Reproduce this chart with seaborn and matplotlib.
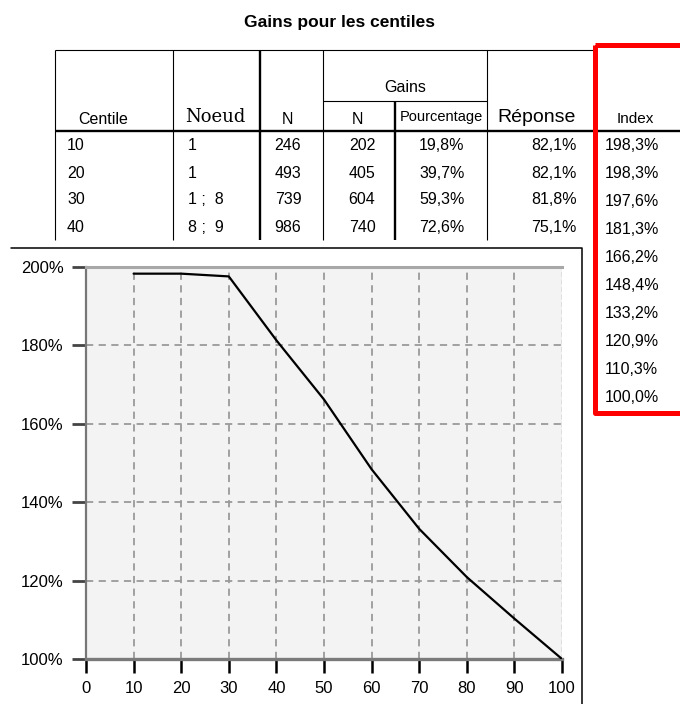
import matplotlib
matplotlib.use("Agg")
import matplotlib.pyplot as plt
import matplotlib.patches as mpatches
import seaborn as sns
import pandas as pd

# data
title = "Gains pour les centiles"
centiles = [10, 20, 30, 40, 50, 60, 70, 80, 90, 100]
index_pct = [198.3, 198.3, 197.6, 181.3, 166.2, 148.4, 133.2, 120.9, 110.3, 100.0]

tab_centile = ["10", "20", "30", "40"]
tab_noeud = ["1", "1", "1 ;  8", "8 ;  9"]
tab_n = ["246", "493", "739", "986"]
tab_gains_n = ["202", "405", "604", "740"]
tab_gains_pct = ["19,8%", "39,7%", "59,3%", "72,6%"]
tab_reponse = ["82,1%", "82,1%", "81,8%", "75,1%"]
index_labels = [f"{v:.1f}%".replace(".", ",") for v in index_pct]

x_ticks = list(range(0, 101, 10))
y_ticks = [100, 120, 140, 160, 180, 200]

df = pd.DataFrame({"Centile": centiles, "Index": index_pct})

sns.set_style("white")
plt.rcParams["font.family"] = ["Liberation Sans", "DejaVu Sans"]
plt.rcParams["text.color"] = "black"
plt.rcParams["xtick.color"] = "black"
plt.rcParams["ytick.color"] = "black"

W, H = 680, 704
fig = plt.figure(figsize=(W / 100, H / 100), dpi=100)

# background layer in pixel coordinates for the table part
bg = fig.add_axes([0, 0, 1, 1])
bg.set_xlim(0, W)
bg.set_ylim(H, 0)
bg.axis("off")

bg.text(340, 22, title, ha="center", va="center", fontsize=12.5, fontweight="bold")

thin, thick = 0.8, 1.7
bg.hlines(50, 55, 597, color="black", lw=thin)
bg.hlines(101, 323, 487, color="black", lw=thin)
bg.hlines(131, 55, W, color="black", lw=thick)
for x in [55, 173, 323, 487]:
    bg.vlines(x, 50, 240, color="black", lw=thin)
bg.vlines(260, 50, 240, color="black", lw=thick)
bg.vlines(395, 101, 240, color="black", lw=thick)

# header
fs = 11.5
bg.text(103, 119, "Centile", ha="center", va="center", fontsize=fs)
bg.text(215, 117, "Noeud", ha="center", va="center", fontsize=13, family="DejaVu Serif")
bg.text(287, 119, "N", ha="center", va="center", fontsize=fs)
bg.text(405, 88, "Gains", ha="center", va="center", fontsize=fs)
bg.text(357, 119, "N", ha="center", va="center", fontsize=fs)
bg.text(441, 117, "Pourcentage", ha="center", va="center", fontsize=10.5)
bg.text(537, 117, "Réponse", ha="center", va="center", fontsize=14)
bg.text(635, 119, "Index", ha="center", va="center", fontsize=11)

row_y = [145, 173, 200, 227]
for i, y in enumerate(row_y):
    bg.text(67, y, tab_centile[i], ha="left", va="center", fontsize=fs)
    bg.text(188, y, tab_noeud[i], ha="left", va="center", fontsize=fs)
    bg.text(288, y, tab_n[i], ha="center", va="center", fontsize=fs)
    bg.text(362, y, tab_gains_n[i], ha="center", va="center", fontsize=fs)
    bg.text(442, y, tab_gains_pct[i], ha="center", va="center", fontsize=fs)
    bg.text(577, y, tab_reponse[i], ha="right", va="center", fontsize=fs)

for i, lab in enumerate(index_labels):
    bg.text(605, 145 + i * 28, lab, ha="left", va="center", fontsize=fs)

# red highlight around the Index column
bg.add_patch(mpatches.Rectangle((595, 45), 100, 368, fill=False, edgecolor="#ff0000",
                                lw=3.6, joinstyle="round", zorder=5))

# white panel holding the chart (top and right edges only)
bg.add_patch(mpatches.Rectangle((11, 248), 571, 470, facecolor="white",
                                edgecolor="none", zorder=6))
bg.plot([11, 582, 582], [248, 248, H], color="black", lw=1.1, zorder=7)

# chart
x0, x1, y0, y1 = 86, 562, 267, 659
ax = fig.add_axes([x0 / W, 1 - y1 / H, (x1 - x0) / W, (y1 - y0) / H])
ax.set_facecolor("#f3f3f3")
sns.lineplot(data=df, x="Centile", y="Index", color="black", lw=1.6, ax=ax, zorder=4)
ax.set_xlim(0, 100)
ax.set_ylim(100, 200)
ax.set_xticks(x_ticks)
ax.set_yticks(y_ticks)
ax.set_yticklabels([f"{t}%" for t in y_ticks])
ax.set_xlabel("")
ax.set_ylabel("")

for x in x_ticks[1:-1]:
    ax.axvline(x, color="#9a9a9a", lw=1.3, ls=(0, (4, 3)), zorder=1)
for y in y_ticks[1:-1]:
    ax.axhline(y, color="#9a9a9a", lw=1.3, ls=(0, (4, 3)), zorder=1)
ax.axvline(100, color="#555555", lw=0.9, ls=(0, (4, 2)), zorder=2)

ax.spines["top"].set_visible(True)
ax.spines["top"].set_color("#a8a8a8")
ax.spines["top"].set_linewidth(2.2)
ax.spines["bottom"].set_color("#7a7a7a")
ax.spines["bottom"].set_linewidth(2.4)
ax.spines["left"].set_color("#777777")
ax.spines["left"].set_linewidth(1.6)
ax.spines["right"].set_visible(False)

ax.tick_params(axis="y", left=True, direction="out", length=10, width=2.0,
               color="#444444", labelcolor="black", pad=6, labelsize=12)
ax.tick_params(axis="x", bottom=True, direction="out", length=10, width=1.8,
               color="black", labelcolor="black", pad=6, labelsize=12)

fig.savefig("out.png", dpi=100)
